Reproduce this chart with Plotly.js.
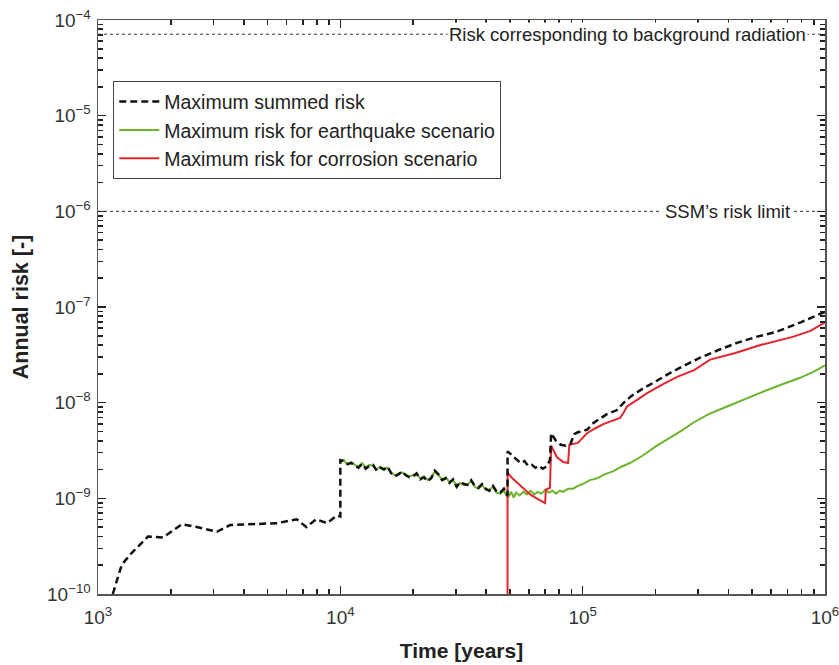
<!DOCTYPE html>
<html>
<head>
<meta charset="utf-8">
<script src="https://cdn.plot.ly/plotly-3.0.1.min.js"></script>
<style>html,body{margin:0;padding:0;background:#fff;}#chart{width:839px;height:665px;}</style>
</head>
<body>
<div id="chart"></div>
<script>
// Reference levels
const backgroundRisk = 7.1e-5;
const ssmLimit = 1e-6;
const refLabels = ["Risk corresponding to background radiation", "SSM\u2019s risk limit"];
const seriesNames = ["Maximum summed risk", "Maximum risk for earthquake scenario", "Maximum risk for corrosion scenario"];

// Tick labels
const xTickVals = [1e3, 1e4, 1e5, 1e6];
const xTickText = ["10<sup>3</sup>", "10<sup>4</sup>", "10<sup>5</sup>", "10<sup>6</sup>"];
const yTickVals = [1e-10, 1e-9, 1e-8, 1e-7, 1e-6, 1e-5, 1e-4];
const yTickText = ["10<sup>\u221210</sup>", "10<sup>\u22129</sup>", "10<sup>\u22128</sup>", "10<sup>\u22127</sup>", "10<sup>\u22126</sup>", "10<sup>\u22125</sup>", "10<sup>\u22124</sup>"];

// Maximum summed risk
const sumT = [1151,1253,1355,1489,1607,1854,1982,2223,2559,3097,3508,4236,5483,6607,7244,7943,8810,9683,10000,
  10000,10351,10715,11092,11482,11885,12303,12735,13183,13646,14125,14622,15136,15668,16218,16788,17378,17989,18621,19275,
  19953,20654,21380,22131,22909,23714,24547,25410,26303,27227,28184,29174,30200,31261,32359,33497,34674,35892,37154,38459,
  39811,41210,42658,44157,45709,47315,48978,
  48978,50119,51880,53703,55590,57544,59566,61660,63826,66069,68391,70795,73282,
  74131,77625,81283,85114,89125,92257,95499,100000,104713,109648,117490,125893,138038,147911,158489,177828,199526,229087,
  263027,305492,363078,433511,524807,630957,794328,1000000];
const sumR = [1.0e-10,2.02e-10,2.57e-10,3.27e-10,3.98e-10,3.89e-10,4.37e-10,5.37e-10,5.01e-10,4.47e-10,5.25e-10,5.37e-10,5.50e-10,6.03e-10,5.01e-10,6.03e-10,5.50e-10,6.61e-10,6.46e-10,
  2.51e-9,2.45e-9,2.29e-9,2.34e-9,2.19e-9,2.09e-9,2.29e-9,2.04e-9,2.19e-9,2.24e-9,1.95e-9,2.09e-9,2.00e-9,2.14e-9,1.82e-9,1.70e-9,1.78e-9,1.91e-9,1.74e-9,1.66e-9,
  1.70e-9,1.82e-9,1.58e-9,1.66e-9,1.51e-9,1.62e-9,1.95e-9,1.78e-9,1.55e-9,1.62e-9,1.45e-9,1.58e-9,1.32e-9,1.48e-9,1.41e-9,1.38e-9,1.55e-9,1.35e-9,1.29e-9,1.41e-9,
  1.26e-9,1.20e-9,1.35e-9,1.17e-9,1.15e-9,1.26e-9,1.07e-9,
  3.09e-9,2.95e-9,2.69e-9,2.51e-9,2.34e-9,2.45e-9,2.19e-9,2.24e-9,2.09e-9,2.19e-9,2.04e-9,2.14e-9,2.51e-9,
  4.79e-9,3.98e-9,3.63e-9,3.55e-9,3.72e-9,4.68e-9,4.90e-9,5.01e-9,5.25e-9,6.03e-9,6.76e-9,7.59e-9,8.32e-9,1.0e-8,1.17e-8,1.41e-8,1.66e-8,2.04e-8,
  2.45e-8,2.95e-8,3.55e-8,4.22e-8,4.90e-8,5.50e-8,6.92e-8,8.91e-8];

// Maximum risk for earthquake scenario
const eqT = [10000,10351,10715,11092,11482,11885,12303,12735,13183,13646,14125,14622,15136,15668,16218,16788,17378,17989,18621,19275,
  19953,20654,21380,22131,22909,23714,24547,25410,26303,27227,28184,29174,30200,31261,32359,33497,34674,35892,37154,38459,
  39811,41210,42658,44157,45709,47315,48978,
  49545,50699,51880,53088,54954,56885,58884,60954,63096,65313,67608,69984,72444,74989,77625,80353,83176,87096,91201,95499,
  100000,107152,114815,123027,133352,144544,156675,177828,199526,229087,257040,285759,331131,394457,457088,537032,645654,788860,891251,1000000];
const eqR = [2.45e-9,2.51e-9,2.24e-9,2.40e-9,2.24e-9,2.14e-9,2.34e-9,2.09e-9,2.24e-9,2.19e-9,2.00e-9,2.14e-9,2.04e-9,2.09e-9,1.86e-9,1.74e-9,1.82e-9,1.86e-9,1.78e-9,1.70e-9,
  1.74e-9,1.78e-9,1.62e-9,1.70e-9,1.55e-9,1.66e-9,1.91e-9,1.74e-9,1.58e-9,1.66e-9,1.48e-9,1.55e-9,1.35e-9,1.45e-9,1.38e-9,1.41e-9,1.51e-9,1.32e-9,1.26e-9,1.38e-9,
  1.23e-9,1.23e-9,1.32e-9,1.15e-9,1.12e-9,1.20e-9,1.02e-9,
  1.05e-9,1.17e-9,1.02e-9,1.15e-9,1.07e-9,1.17e-9,1.10e-9,1.20e-9,1.10e-9,1.17e-9,1.12e-9,1.23e-9,1.15e-9,1.20e-9,1.12e-9,1.20e-9,1.17e-9,1.26e-9,1.26e-9,1.35e-9,
  1.41e-9,1.55e-9,1.62e-9,1.78e-9,1.91e-9,2.14e-9,2.34e-9,2.82e-9,3.47e-9,4.27e-9,5.13e-9,6.17e-9,7.59e-9,9.12e-9,1.07e-8,1.26e-8,1.51e-8,1.82e-8,2.09e-8,2.45e-8];

// Maximum risk for corrosion scenario
const corT = [48978,48978,51286,53703,57544,60674,64565,68549,69984,70469,73282,74131,78343,83176,87096,88105,95499,104232,
  112202,123027,142561,147911,152405,165959,184502,213796,245471,288403,335738,426580,537032,741310,870964,1000000];
const corR = [1e-11,1.86e-9,1.62e-9,1.45e-9,1.23e-9,1.10e-9,1.00e-9,0.91e-9,0.89e-9,1.23e-9,1.29e-9,3.55e-9,2.69e-9,2.40e-9,2.34e-9,3.63e-9,3.80e-9,4.79e-9,
  5.37e-9,6.03e-9,6.92e-9,7.94e-9,9.12e-9,1.05e-8,1.26e-8,1.55e-8,1.86e-8,2.19e-8,2.82e-8,3.31e-8,3.98e-8,4.90e-8,5.62e-8,6.92e-8];

const xRange = [1000, 1000000];

// minor tick positions (2..9 within each decade)
function minorTicks(lo, hi) {
  const v = [];
  for (let e = lo; e < hi; e++) for (let d = 2; d <= 9; d++) v.push(d * Math.pow(10, e));
  return v;
}

const traces = [
  {x: xRange, y: [backgroundRisk, backgroundRisk], mode: 'lines', line: {color: '#333', width: 1, dash: 'dot'}, showlegend: false, hoverinfo: 'skip'},
  {x: xRange, y: [ssmLimit, ssmLimit], mode: 'lines', line: {color: '#333', width: 1, dash: 'dot'}, showlegend: false, hoverinfo: 'skip'},
  {x: xRange, y: [ssmLimit, ssmLimit], xaxis: 'x2', yaxis: 'y2', mode: 'lines', line: {color: 'rgba(0,0,0,0)', width: 0}, showlegend: false, hoverinfo: 'skip'},
  {x: eqT, y: eqR, name: seriesNames[1], mode: 'lines', line: {color: '#6cb42c', width: 2}, legendrank: 2},
  {x: corT, y: corR, name: seriesNames[2], mode: 'lines', line: {color: '#e3262b', width: 2}, legendrank: 3},
  {x: sumT, y: sumR, name: seriesNames[0], mode: 'lines', line: {color: '#111', width: 2.5, dash: '7px,4px'}, legendrank: 1}
];

const fontFam = 'Liberation Sans, Arial, sans-serif';
const axisCommon = {
  type: 'log', tickmode: 'array', showgrid: false, zeroline: false,
  showline: true, linecolor: '#555', linewidth: 1.5, mirror: 'ticks',
  ticks: 'inside', ticklen: 8, tickcolor: '#222', tickwidth: 1.6,
  ticklabeloverflow: 'allow',
  tickfont: {family: fontFam, size: 19, color: '#333'}
};
const minorCommon = {
  type: 'log', tickmode: 'array', showgrid: false, zeroline: false, showline: false,
  mirror: 'ticks', ticks: 'inside', ticklen: 5, tickcolor: '#222', tickwidth: 1.6, showticklabels: false
};

const layout = {
  width: 839, height: 665,
  margin: {l: 98, r: 14, t: 20, b: 71},
  paper_bgcolor: '#fff', plot_bgcolor: '#fff',
  font: {family: fontFam, color: '#222'},
  xaxis: Object.assign({}, axisCommon, {range: [3, 6], tickvals: xTickVals, ticktext: xTickText, ticklabelstandoff: 6,
    title: {text: 'Time [years]', font: {size: 21, color: '#222', family: fontFam, weight: 'bold'}, standoff: 16}}),
  yaxis: Object.assign({}, axisCommon, {range: [-10, -4], tickvals: yTickVals, ticktext: yTickText, ticklabelstandoff: 2,
    title: {text: 'Annual risk [-]', font: {size: 21.5, color: '#222', family: fontFam, weight: 'bold'}, standoff: 12}}),
  xaxis2: Object.assign({}, minorCommon, {range: [3, 6], tickvals: minorTicks(3, 6), overlaying: 'x', anchor: 'y2', side: 'bottom'}),
  yaxis2: Object.assign({}, minorCommon, {range: [-10, -4], tickvals: minorTicks(-10, -4), overlaying: 'y', anchor: 'x2', side: 'left'}),
  legend: {x: 0.021, y: 0.893, xanchor: 'left', yanchor: 'top', bgcolor: '#fff', bordercolor: '#444', borderwidth: 1,
    font: {size: 19.5, color: '#222'}, tracegroupgap: 0, itemwidth: 40},
  annotations: [
    {xref: 'paper', yref: 'y', x: 0.977, y: Math.log10(backgroundRisk), xanchor: 'right', yanchor: 'middle', text: refLabels[0],
     showarrow: false, bgcolor: '#fff', font: {size: 18.5, color: '#222'}, borderpad: 1},
    {xref: 'paper', yref: 'y', x: 0.957, y: Math.log10(ssmLimit), xanchor: 'right', yanchor: 'middle', text: refLabels[1],
     showarrow: false, bgcolor: '#fff', font: {size: 18.5, color: '#222'}, borderpad: 3}
  ]
};

Plotly.newPlot('chart', traces, layout, {displayModeBar: false, staticPlot: true});
</script>
</body>
</html>
